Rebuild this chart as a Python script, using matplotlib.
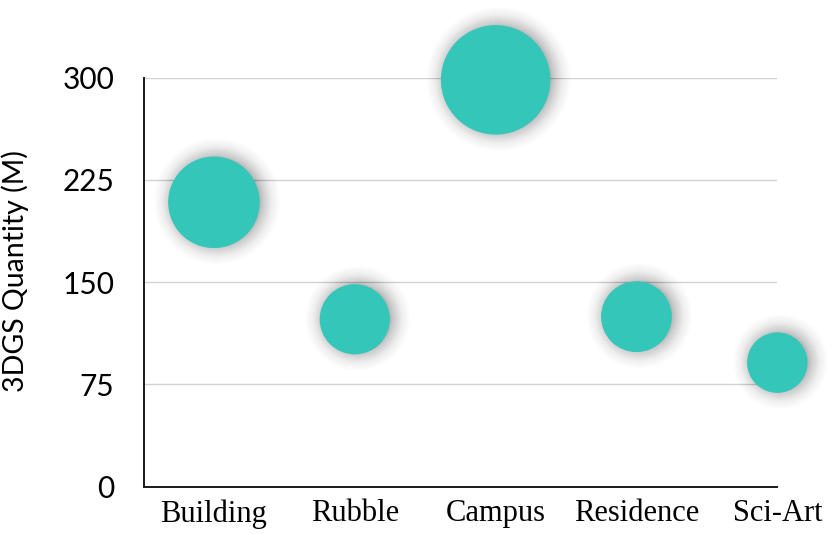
import numpy as np
import matplotlib.pyplot as plt
from matplotlib.transforms import offset_copy

# data
scenes = ['Building', 'Rubble', 'Campus', 'Residence', 'Sci-Art']
quantity = [208.6, 122.8, 298.4, 124.7, 91.0]
y_ticks = [0, 75, 150, 225, 300]

teal = '#33c6b9'
dpi = 100

fig = plt.figure(figsize=(8.31, 5.34), dpi=dpi)
ax = fig.add_axes([0.1727, 0.0886, 0.7627, 0.7659])

x = np.arange(len(scenes))
q = np.array(quantity)

# bubble area proportional to value (radius in px)
radius_px = np.sqrt(10.05 * q)
pt_per_px = 72.0 / dpi

# soft shadow: stacked translucent discs, slightly offset
shadow_tr = offset_copy(ax.transData, fig=fig, x=3, y=1, units='dots')
n_layers = 40
for j in range(n_layers):
    r = radius_px - 2 + 0.5 * j
    a = 0.009 * (1 - j / n_layers) + 0.002
    ax.scatter(x, q, s=(2 * r * pt_per_px) ** 2, color='black', alpha=a,
               linewidths=0, transform=shadow_tr, zorder=2, clip_on=False)

ax.scatter(x, q, s=(2 * radius_px * pt_per_px) ** 2, color=teal,
           linewidths=0, zorder=3, clip_on=False)

ax.set_xlim(-0.5, len(scenes) - 1)
ax.set_ylim(0, 300)
ax.set_yticks(y_ticks)
ax.set_xticks(x)
ax.set_xticklabels(scenes, fontfamily='Liberation Serif', fontsize=22)
for lab in ax.get_yticklabels():
    lab.set_fontfamily('Lato')
    lab.set_fontsize(21.5)
ax.tick_params(axis='y', length=0, pad=21)
ax.tick_params(axis='x', length=0, pad=9)

ax.set_ylabel('3DGS Quantity (M)', fontfamily='Lato', fontsize=20.5)
ax.yaxis.set_label_coords(-0.18, 0.527)

ax.yaxis.grid(True, color='#d2d2d2', linewidth=1.0, zorder=0)
ax.set_axisbelow(True)
for side in ['top', 'right']:
    ax.spines[side].set_visible(False)
for side in ['left', 'bottom']:
    ax.spines[side].set_linewidth(1.4)
    ax.spines[side].set_color('#1a1a1a')

fig.savefig('out.png', dpi=dpi)
